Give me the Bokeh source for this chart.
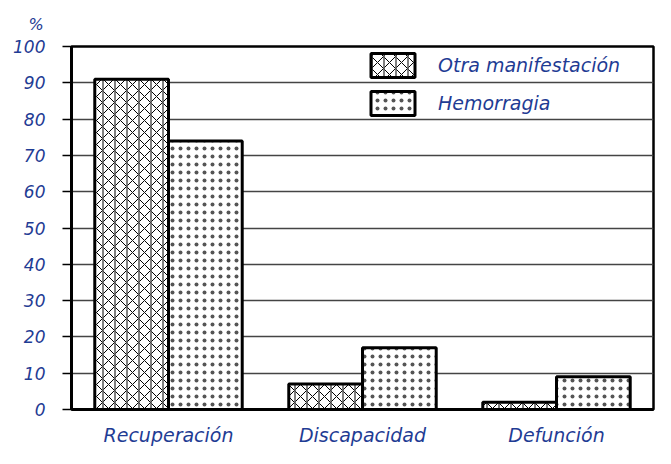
from bokeh.plotting import figure
from bokeh.models import FactorRange, Range1d, FixedTicker, Legend, LegendItem, ColumnDataSource
from bokeh.transform import dodge
from bokeh.embed import file_html
from bokeh.resources import INLINE

categories = ["Recuperación", "Discapacidad", "Defunción"]
otra = [91, 7, 2]
hemorragia = [74, 17, 9]
series_names = ["Otra manifestación", "Hemorragia"]
y_ticks = [0, 10, 20, 30, 40, 50, 60, 70, 80, 90, 100]
unit_label = "%"

BLUE = "#1f3c94"
FONT = "DejaVu Sans"

src = ColumnDataSource(dict(cat=categories, otra=otra, hem=hemorragia))

p = figure(x_range=FactorRange(factors=categories, range_padding=0),
           y_range=Range1d(0, 100), width=655, height=448,
           output_backend="svg", toolbar_location=None,
           min_border_left=71, min_border_right=2, min_border_top=45, min_border_bottom=34)

# Otra manifestación: diagonal cross + vertical lines
r1a = p.vbar(x=dodge('cat', -0.19, range=p.x_range), top='otra', width=0.38, source=src,
             fill_color="white", line_color=None,
             hatch_pattern="diagonal_cross", hatch_scale=12, hatch_weight=1, hatch_color="black")
r1b = p.vbar(x=dodge('cat', -0.19, range=p.x_range), top='otra', width=0.38, source=src,
             fill_alpha=0, line_color="black", line_width=3,
             hatch_pattern="vertical_line", hatch_scale=12, hatch_weight=1.5, hatch_color="#555555")
# Hemorragia: dots
r2 = p.vbar(x=dodge('cat', 0.19, range=p.x_range), top='hem', width=0.38, source=src,
            fill_color="white", line_color="black", line_width=3,
            hatch_pattern="dot", hatch_scale=8, hatch_weight=1, hatch_color="#555555")

legend = Legend(items=[LegendItem(label=series_names[0], renderers=[r1a, r1b]),
                       LegendItem(label=series_names[1], renderers=[r2])],
                location=(294, 291), glyph_width=55, glyph_height=30, label_height=30,
                spacing=8, padding=0, margin=0, border_line_color=None,
                background_fill_alpha=0, label_standoff=18,
                label_text_font=FONT, label_text_font_style="italic",
                label_text_color=BLUE, label_text_font_size="19px")
p.add_layout(legend)

p.title.text = unit_label
p.title.text_font = FONT
p.title.text_font_style = "italic"
p.title.text_font_size = "16px"
p.title.text_color = BLUE
p.title.align = "left"
p.title.offset = -43
p.title.standoff = 25

p.yaxis.ticker = FixedTicker(ticks=y_ticks)
p.yaxis.major_tick_out = 9
p.yaxis.major_tick_in = 0
p.yaxis.major_tick_line_width = 1.5
p.yaxis.minor_tick_line_color = None
p.yaxis.axis_line_width = 3
p.yaxis.major_label_standoff = 17
p.yaxis.major_label_text_font = FONT
p.yaxis.major_label_text_font_style = "italic"
p.yaxis.major_label_text_color = BLUE
p.yaxis.major_label_text_font_size = "17px"

p.xaxis.major_tick_line_color = None
p.xaxis.minor_tick_line_color = None
p.xaxis.axis_line_width = 3
p.xaxis.major_label_standoff = 8
p.xaxis.major_label_text_font = FONT
p.xaxis.major_label_text_font_style = "italic"
p.xaxis.major_label_text_color = BLUE
p.xaxis.major_label_text_font_size = "19px"

p.xgrid.grid_line_color = None
p.ygrid.ticker = FixedTicker(ticks=y_ticks)
p.ygrid.grid_line_color = "#444444"
p.ygrid.grid_line_width = 1.5

p.outline_line_color = "black"
p.outline_line_width = 2.5

open("out.html", "w").write(file_html(p, INLINE))
